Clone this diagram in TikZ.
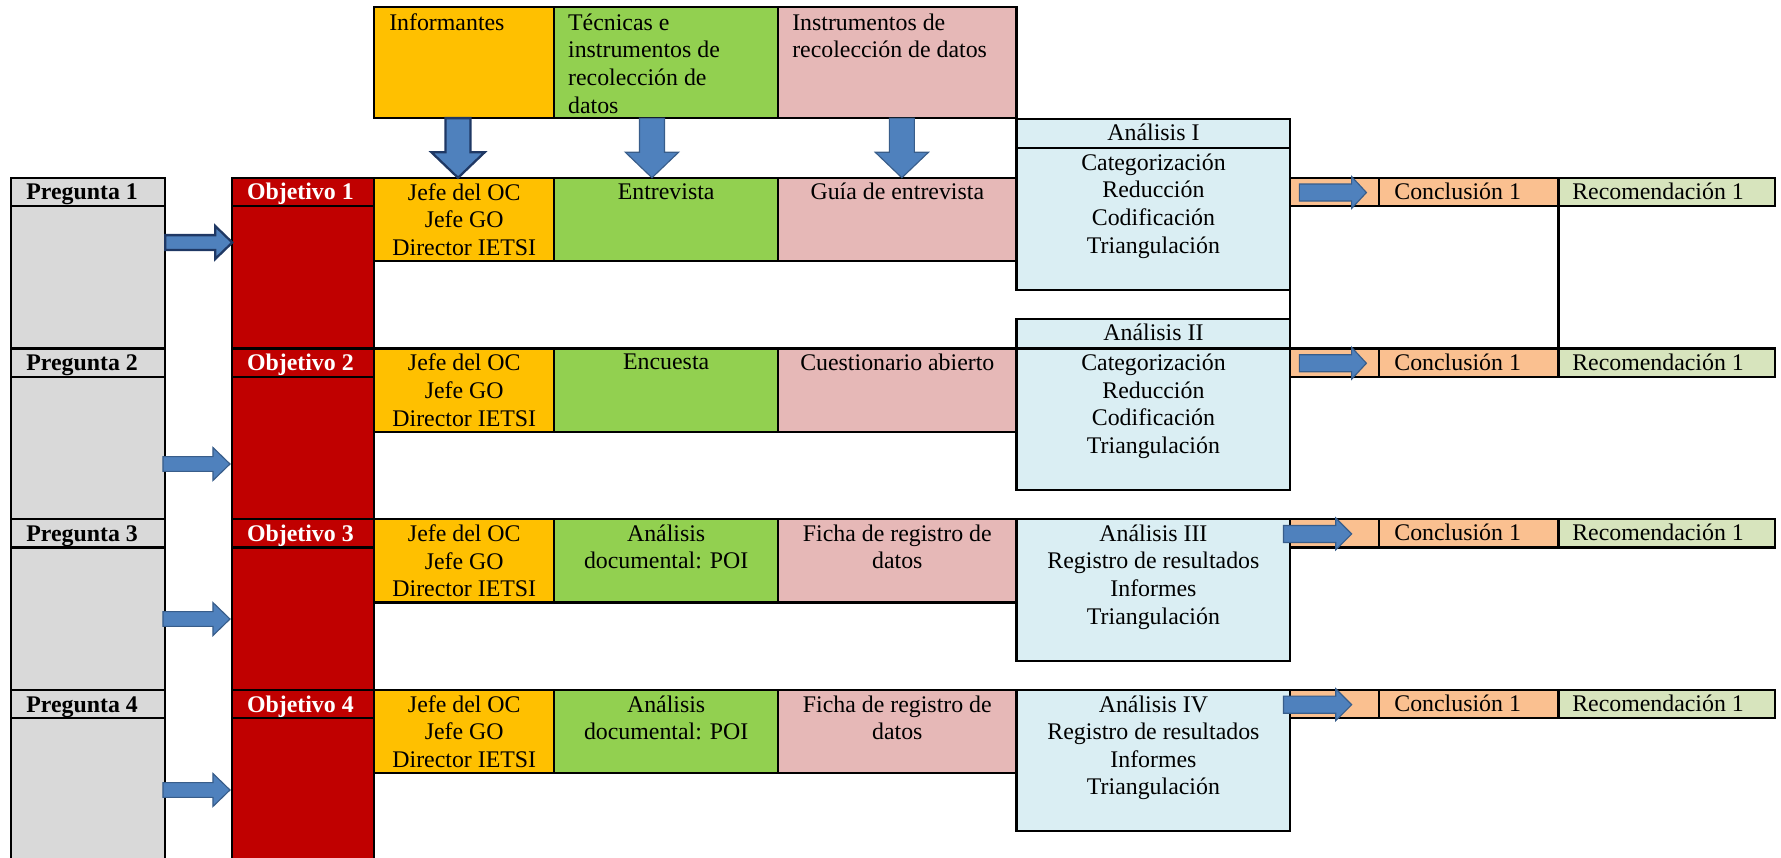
\documentclass[tikz,border=0pt]{standalone}
\usepackage{fontspec}
\setmainfont{Liberation Serif}
\usetikzlibrary{fit,calc}
\definecolor{cOrange}{HTML}{FFC000}
\definecolor{cGreen}{HTML}{92D050}
\definecolor{cPink}{HTML}{E6B8B7}
\definecolor{cGray}{HTML}{D9D9D9}
\definecolor{cRed}{HTML}{C00000}
\definecolor{cBlue}{HTML}{DAEEF3}
\definecolor{cPeach}{HTML}{FAC090}
\definecolor{cLime}{HTML}{D7E4BD}
\definecolor{aFill}{HTML}{4F81BD}
\definecolor{aLine}{HTML}{385D8A}
\definecolor{aDark}{HTML}{1F3864}
\tikzset{
  cellbox/.style={draw=black, line width=2pt, inner sep=0pt, outer sep=0pt},
  txt/.style={font=\fontsize{21}{24.3}\selectfont, inner sep=0pt, align=center, anchor=north},
  ltxt/.style={font=\fontsize{21}{24.3}\selectfont, inner sep=0pt, align=left},
  htxt/.style={font=\fontsize{21}{24.3}\selectfont\bfseries, inner sep=0pt, anchor=base west},
  arrA/.style={fill=aFill, draw=aDark, line width=2pt, line join=miter},
  arrB/.style={fill=aFill, draw=aLine, line width=1pt, line join=miter},
  conn/.style={draw=black, line width=2pt},
}
% cell: name, x1, y1, x2, y2, fill
\newcommand\mycell[6]{\node[cellbox, fill=#6, fit={(#2,#3) (#4,#5)}] (#1) {};}
% horizontal block arrow: style, from, to, shaft half, head half, head length
\newcommand\harrow[6]{\path[#1] let \p1=(#2), \p2=(#3) in
  (\x1,\y1+#4) -- (\x2-#6,\y1+#4) -- (\x2-#6,\y1+#5) -- (\x2,\y1) --
  (\x2-#6,\y1-#5) -- (\x2-#6,\y1-#4) -- (\x1,\y1-#4) -- cycle;}
% vertical (downward) block arrow
\newcommand\varrow[6]{\path[#1] let \p1=(#2), \p2=(#3) in
  (\x1-#4,\y1) -- (\x1-#4,\y2+#6) -- (\x1-#5,\y2+#6) -- (\x1,\y2) --
  (\x1+#5,\y2+#6) -- (\x1+#4,\y2+#6) -- (\x1+#4,\y1) -- cycle;}
\begin{document}
\begin{tikzpicture}[x=1pt,y=-1pt]
\useasboundingbox (0,0) rectangle (1568,755);
\clip (0,0) rectangle (1568,755);
% top headers
\mycell{hInf}{329.5}{5.9}{488}{104}{cOrange}
\mycell{hTec}{488}{5.9}{685}{104}{cGreen}
\mycell{hIns}{685}{5.9}{895}{104}{cPink}
\node[ltxt, anchor=north west] (hInfT) at ($(hInf.north west)+(13,6)$) {Informantes};
\node[ltxt, anchor=north west] (hTecT) at ($(hTec.north west)+(12,6)$) {Técnicas e\\instrumentos de\\recolección de\\datos};
\node[ltxt, anchor=north west] (hInsT) at ($(hIns.north west)+(12.3,6)$) {Instrumentos de\\recolección de datos};
% rows
\foreach \kk/\ry/\rn/\tec/\ins in {
  1/156.5/306.8/{Entrevista}/{Guía de entrevista},
  2/306.8/457.1/{Encuesta}/{Cuestionario abierto},
  3/457.1/607.4/{Análisis\\documental: POI}/{Ficha de registro de\\datos},
  4/607.4/762/{Análisis\\documental: POI}/{Ficha de registro de\\datos}}{
  \pgfmathsetmacro\rh{\ry+25}
  \pgfmathsetmacro\rb{\ry+73.4}
  \mycell{ph\kk}{10}{\ry}{145.5}{\rh}{cGray}
  \mycell{pb\kk}{10}{\rh}{145.5}{\rn}{cGray}
  \mycell{oh\kk}{204.5}{\ry}{329.5}{\rh}{cRed}
  \mycell{ob\kk}{204.5}{\rh}{329.5}{\rn}{cRed}
  \mycell{i\kk}{329.5}{\ry}{488}{\rb}{cOrange}
  \mycell{t\kk}{488}{\ry}{685}{\rb}{cGreen}
  \mycell{n\kk}{685}{\ry}{895}{\rb}{cPink}
  \mycell{s\kk}{1136}{\ry}{1214}{\rh}{cPeach}
  \mycell{c\kk}{1214}{\ry}{1372}{\rh}{cPeach}
  \mycell{r\kk}{1372}{\ry}{1563}{\rh}{cLime}
  \node[htxt] (phT\kk) at ($(ph\kk.north west)+(13,19.5)$) {Pregunta \kk};
  \node[htxt, text=white] (ohT\kk) at ($(oh\kk.north west)+(12.8,19.5)$) {Objetivo \kk};
  \node[txt] (iT\kk) at ($(i\kk.north)+(0,4.7)$) {Jefe del OC\\Jefe GO\\Director IETSI};
  \node[txt] (tT\kk) at ($(t\kk.north)+(0,4.7)$) {\tec};
  \node[txt] (nT\kk) at ($(n\kk.north)+(0,4.7)$) {\ins};
  \node[ltxt, anchor=base west] (cT\kk) at ($(c\kk.north west)+(13.4,19)$) {Conclusión 1};
  \node[ltxt, anchor=base west] (rT\kk) at ($(r\kk.north west)+(12,19)$) {Recomendación 1};
}
% analysis boxes
\mycell{a1h}{895}{105}{1136}{130.5}{cBlue}
\mycell{a1b}{895}{130.5}{1136}{255.3}{cBlue}
\mycell{a2h}{895}{281}{1136}{306.8}{cBlue}
\mycell{a2b}{895}{306.8}{1136}{431.4}{cBlue}
\mycell{a3}{895}{457.1}{1136}{582}{cBlue}
\mycell{a4}{895}{607.4}{1136}{731.8}{cBlue}
\node[txt, anchor=base] (a1hT) at ($(a1h.north)+(0,19)$) {Análisis I};
\node[txt] (a1bT) at ($(a1b.north)+(0,4.7)$) {Categorización\\Reducción\\Codificación\\Triangulación};
\node[txt, anchor=base] (a2hT) at ($(a2h.north)+(0,19)$) {Análisis II};
\node[txt] (a2bT) at ($(a2b.north)+(0,4.7)$) {Categorización\\Reducción\\Codificación\\Triangulación};
\node[txt] (a3T) at ($(a3.north)+(0,4.7)$) {Análisis III\\Registro de resultados\\Informes\\Triangulación};
\node[txt] (a4T) at ($(a4.north)+(0,4.7)$) {Análisis IV\\Registro de resultados\\Informes\\Triangulación};
% connecting lines
\draw[conn] (a1b.south east) -- (a2h.north east);
\draw[conn] (r1.south west) -- (r2.north west);
% down arrows
\varrow{arrA}{$(hInf.south)+(-5.5,0)$}{$(i1.north)+(-5.5,0)$}{11pt}{23.5pt}{22.5pt}
\varrow{arrB}{$(hTec.south)+(-12.5,0)$}{$(t1.north)+(-12.5,0)$}{11pt}{23.5pt}{22.5pt}
\varrow{arrB}{$(hIns.south)+(4,0)$}{$(n1.north)+(4,0)$}{11pt}{23.5pt}{22.5pt}
% pregunta -> objetivo arrows
\harrow{arrA}{$(pb1.east)+(0,-30.65)$}{$(ob1.west)+(0,-30.65)$}{6.5pt}{14.5pt}{15pt}
\harrow{arrB}{$(pb2.east)+(-2,14.05)$}{$(ob2.west)+(-2,14.05)$}{6.5pt}{14.5pt}{15pt}
\harrow{arrB}{$(pb3.east)+(-2,0.25)$}{$(ob3.west)+(-2,0.25)$}{6.5pt}{14.5pt}{15pt}
\harrow{arrB}{$(pb4.east)+(-2,-1.7)$}{$(ob4.west)+(-2,-1.7)$}{6.5pt}{14.5pt}{15pt}
% analysis -> conclusion arrows
\harrow{arrB}{$(s1.west)+(8,0.5)$}{$(s1.west)+(67,0.5)$}{7.5pt}{14pt}{13pt}
\harrow{arrB}{$(s2.west)+(8,0.5)$}{$(s2.west)+(67,0.5)$}{7.5pt}{14pt}{13pt}
\harrow{arrB}{$(s3.west)+(-6,0.5)$}{$(s3.west)+(54,0.5)$}{7.5pt}{14pt}{14pt}
\harrow{arrB}{$(s4.west)+(-6,0.5)$}{$(s4.west)+(54,0.5)$}{7.5pt}{14pt}{14pt}
\end{tikzpicture}
\end{document}
